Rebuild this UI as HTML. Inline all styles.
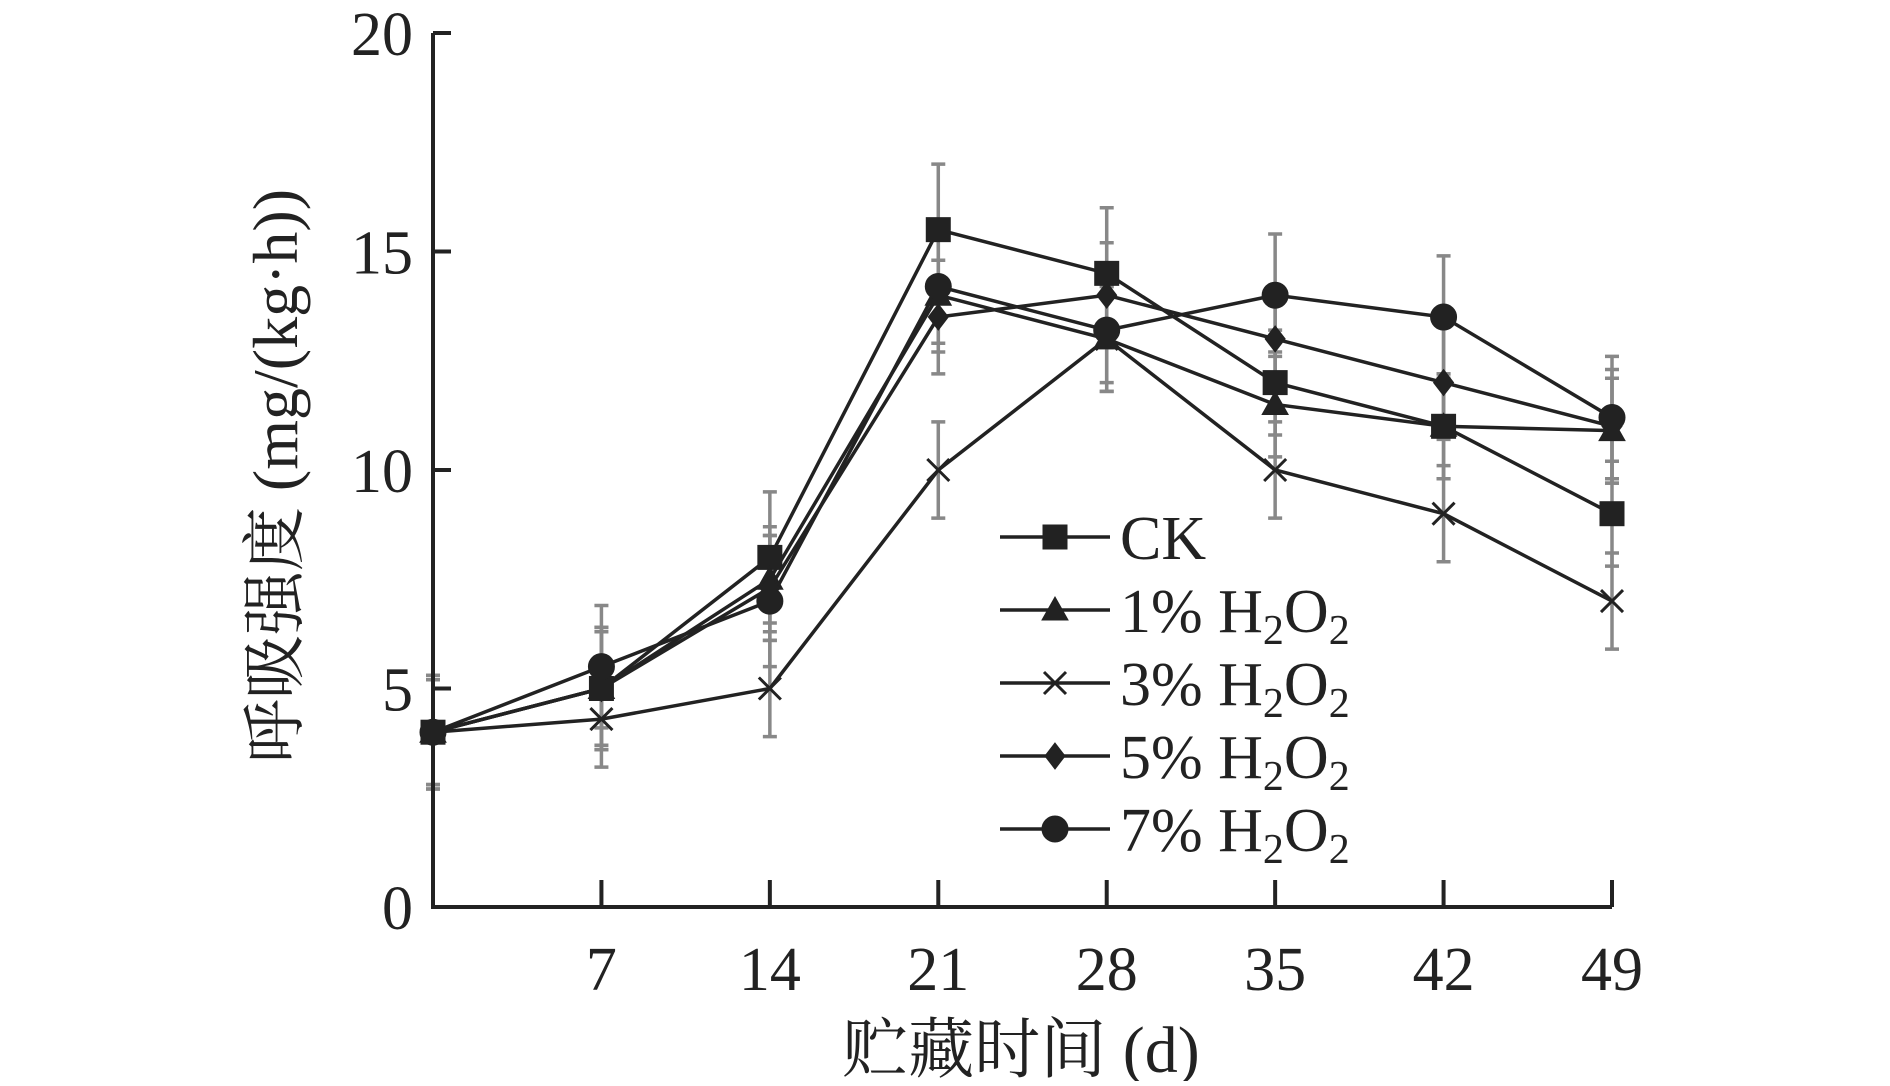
<!DOCTYPE html>
<html><head><meta charset="utf-8"><style>
body{margin:0;background:#fff}
svg text{font-family:"Liberation Serif","Noto Serif CJK SC",serif;fill:#222}
</style></head><body>
<svg width="1890" height="1081" viewBox="0 0 1890 1081" xmlns="http://www.w3.org/2000/svg">
<g id="err"></g>
<g id="lines"></g>
<g id="marks"></g>
<g id="axes"></g>
<g id="legend"></g>
<text transform="translate(297,476) rotate(-90)" text-anchor="middle" font-size="64">呼吸强度 (mg/(kg·h))</text>
<text x="1021" y="1072" text-anchor="middle" font-size="66">贮藏时间 (d)</text>
</svg>
<script>
const days=[0,7,14,21,28,35,42,49];
const xTicks=[7,14,21,28,35,42,49];
const yTicks=[0,5,10,15,20];
const ck=[4,5,8,15.5,14.5,12,11,9];
const h1=[4,5,7.5,14,13,11.5,11,10.9];
const h3=[4,4.3,5,10,13,10,9,7];
const h5=[4,5,7.3,13.5,14,13,12,11];
const h7=[4,5.5,7,14.2,13.2,14,13.5,11.2];
const ckErr=[1.3,1.4,1.5,1.5,1.5,1.2,1.2,1.2];
const h1Err=[1.2,1.4,1.2,1.3,1.2,1.2,1.2,1.2];
const h3Err=[1.3,1.1,1.1,1.1,1.2,1.1,1.1,1.1];
const h5Err=[1.2,1.3,1.2,1.3,1.2,1.2,1.3,1.3];
const h7Err=[1.2,1.4,1.5,1.3,1.2,1.4,1.4,1.4];
const names=["CK","1% H2O2","3% H2O2","5% H2O2","7% H2O2"];
const series=[ck,h1,h3,h5,h7], errs=[ckErr,h1Err,h3Err,h5Err,h7Err];
const markers=["square","triangle","x","diamond","circle"];
const NS="http://www.w3.org/2000/svg";
const X=d=>433+(d/49)*(1612-433);
const Y=v=>907-(v/20)*(907-33);
function mk(t,a,p){const e=document.createElementNS(NS,t);for(const k in a)e.setAttribute(k,a[k]);p.appendChild(e);return e;}
const ax=document.getElementById('axes');
mk('path',{d:`M${X(0)},${Y(20)}V${Y(0)}H${X(49)}`,stroke:'#222','stroke-width':4,fill:'none'},ax);
yTicks.forEach(t=>{mk('line',{x1:X(0),x2:X(0)+18,y1:Y(t),y2:Y(t),stroke:'#222','stroke-width':4},ax);
 const tx=mk('text',{x:X(0)-20,y:Y(t)+22,'text-anchor':'end','font-size':62},ax);tx.textContent=t;
 });
xTicks.forEach(t=>{mk('line',{x1:X(t),x2:X(t),y1:Y(0),y2:Y(0)-27,stroke:'#222','stroke-width':4},ax);
 const tx=mk('text',{x:X(t),y:Y(0)+83,'text-anchor':'middle','font-size':62},ax);tx.textContent=t;
 });
function marker(type,x,y,p){
 const s={fill:'#222',stroke:'#222'};let e;
 if(type==='square')e=mk('rect',{x:x-12,y:y-12,width:24,height:24,...s},p);
 else if(type==='triangle')e=mk('path',{d:`M${x},${y-13}L${x+13},${y+10}L${x-13},${y+10}Z`,...s},p);
 else if(type==='x')e=mk('path',{d:`M${x-11},${y-11}L${x+11},${y+11}M${x+11},${y-11}L${x-11},${y+11}`,stroke:'#222','stroke-width':3,fill:'none'},p);
 else if(type==='diamond')e=mk('path',{d:`M${x},${y-13}L${x+10},${y}L${x},${y+13}L${x-10},${y}Z`,...s},p);
 else e=mk('circle',{cx:x,cy:y,r:13,...s},p);
 return e;}
const eg=document.getElementById('err'),lg=document.getElementById('lines'),mg=document.getElementById('marks');
series.forEach((s,i)=>{
 s.forEach((v,j)=>{const x=X(days[j]),e=errs[i][j];
  const b=mk('path',{d:`M${x},${Y(v+e)}V${Y(v-e)}M${x-7},${Y(v+e)}H${x+7}M${x-7},${Y(v-e)}H${x+7}`,stroke:'#888','stroke-width':3.5,fill:'none'},eg);
  });
 const l=mk('polyline',{points:s.map((v,j)=>X(days[j])+','+Y(v)).join(' '),stroke:'#222','stroke-width':3.5,fill:'none'},lg);
 
 s.forEach((v,j)=>{const m=marker(markers[i],X(days[j]),Y(v),mg);
  });
});
const leg=document.getElementById('legend');
names.forEach((n,i)=>{const y=537+i*73;
 const g=mk('g',{},leg);
 mk('line',{x1:1000,x2:1110,y1:y,y2:y,stroke:'#222','stroke-width':3.5},g);
 marker(markers[i],1055,y,g);
 const t=mk('text',{x:1120,y:y+22,'font-size':62},g);
 if(i===0)t.textContent='CK';
 else{const p=n.split(' ')[0];t.innerHTML=p+' H<tspan font-size="42" dy="12">2</tspan><tspan dy="-12">O</tspan><tspan font-size="42" dy="12">2</tspan>';}
});
</script>
</body></html>
